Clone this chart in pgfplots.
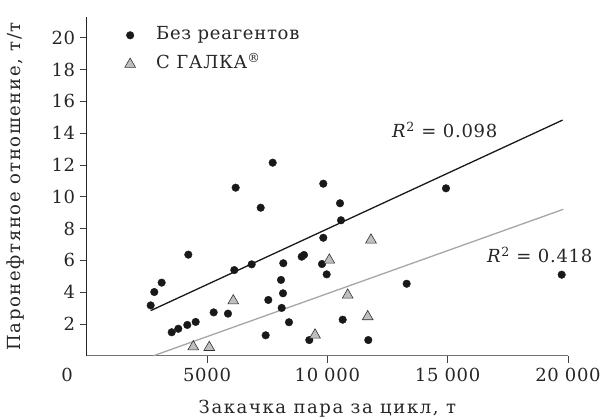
\documentclass[border=0pt]{standalone}
\usepackage{fontspec}
\setmainfont[LetterSpace=4]{DejaVu Serif}
\newfontfamily\labelfont[LetterSpace=9]{DejaVu Serif}
\usepackage{pgfplots}
\pgfplotsset{compat=1.18}
\newcommand\chartfont{\fontsize{18bp}{21bp}\selectfont}
\begin{document}
\begin{tikzpicture}
\useasboundingbox (-86.67bp,-64.2bp) rectangle (519.33bp,355.8bp);
\begin{axis}[
  at={(0,0)}, anchor=south west,
  scale only axis, width=481.33bp, height=338.8bp,
  xmin=0, xmax=20000, ymin=0, ymax=21.3,
  clip=false,
  axis lines*=left,
  x axis line style={-, draw=black!55, line width=0.8bp},
  y axis line style={-, draw=black!85, line width=0.8bp},
  tick align=outside, major tick length=7bp,
  tick style={draw=black!75, line width=0.7bp},
  xtick={5000,10000,15000,20000},
  xticklabels={5000,10\,\,000,15\,\,000,20\,\,000},
  scaled x ticks=false,
  extra x ticks={0}, extra x tick labels={0},
  extra x tick style={major tick length=0pt, tick label style={xshift=-19.5bp, yshift=-7bp}},
  ytick={2,4,...,20},
  /pgf/number format/assume math mode=true,
  tick label style={font=\chartfont, text=black!85},
  xticklabel style={yshift=-2bp},
  yticklabel style={xshift=-1bp},
  xlabel={Закачка пара за цикл, т},
  ylabel={Паронефтяное отношение, т/т},
  label style={font=\chartfont\labelfont, text=black!85},
  xlabel style={at={(axis description cs:0.5,-0.156)}, anchor=center},
  ylabel style={at={(axis description cs:-0.147,0.5)}, anchor=center},
  legend style={draw=none, fill=none, inner sep=0pt,
    at={(axis description cs:0.0754,0.9776)}, anchor=north west,
    font=\chartfont, text=black!85, row sep=8bp,
    nodes={text height=13bp, text depth=4bp}},
  legend cell align=left,
  legend image code/.code={\path[draw=none, fill=none] (-7bp,-5bp) rectangle (24bp,5bp);
    \draw[#1] plot coordinates {(0bp,0bp)};},
]
% trend lines
\addplot[black!90, line width=1.3bp, forget plot] coordinates {(2660,2.84) (19778,14.82)};
\addplot[black!35, line width=1.3bp, forget plot] coordinates {(2768,0) (19805,9.21)};

% no reagents
\addplot[only marks, mark=*, mark size=3.8bp, color=black!90] coordinates {
(7729,12.14) (6191,10.57) (9832,10.82) (7231,9.31) (4223,6.36) (9832,7.42)
(3117,4.60) (2810,4.01) (2660,3.17) (6134,5.39) (6857,5.75) (8170,5.82)
(8934,6.23) (9030,6.34) (9778,5.77) (9973,5.12) (8075,4.77) (8158,3.93)
(7547,3.51) (8103,3.01) (5278,2.73) (5872,2.65) (8407,2.11) (4530,2.13)
(4181,1.94) (3807,1.70) (3533,1.48) (7438,1.29) (9250,0.99) (10527,9.59)
(10568,8.52) (14930,10.53) (13297,4.53) (19738,5.10) (10638,2.27) (11702,0.99)
};
\addlegendentry{Без реагентов}

% GALKA
\addplot[only marks, mark=triangle*, mark size=6.2bp,
  mark options={draw=black!80, fill=black!25, line width=0.6bp}] coordinates {
(6092,3.46) (4430,0.57) (5095,0.53) (9488,1.31) (10082,6.02) (11814,7.28)
(10846,3.82) (11677,2.46)
};
\addlegendentry{С ГАЛКА\textsuperscript{®}}

\node[anchor=west, inner sep=0pt, font=\chartfont, text=black!85] at (axis cs:12686,14.2) {\textit{R}\textsuperscript{2} = 0.098};
\node[anchor=west, inner sep=0pt, font=\chartfont, text=black!85] at (axis cs:16634,6.34) {\textit{R}\textsuperscript{2} = 0.418};
\end{axis}
\end{tikzpicture}
\end{document}
